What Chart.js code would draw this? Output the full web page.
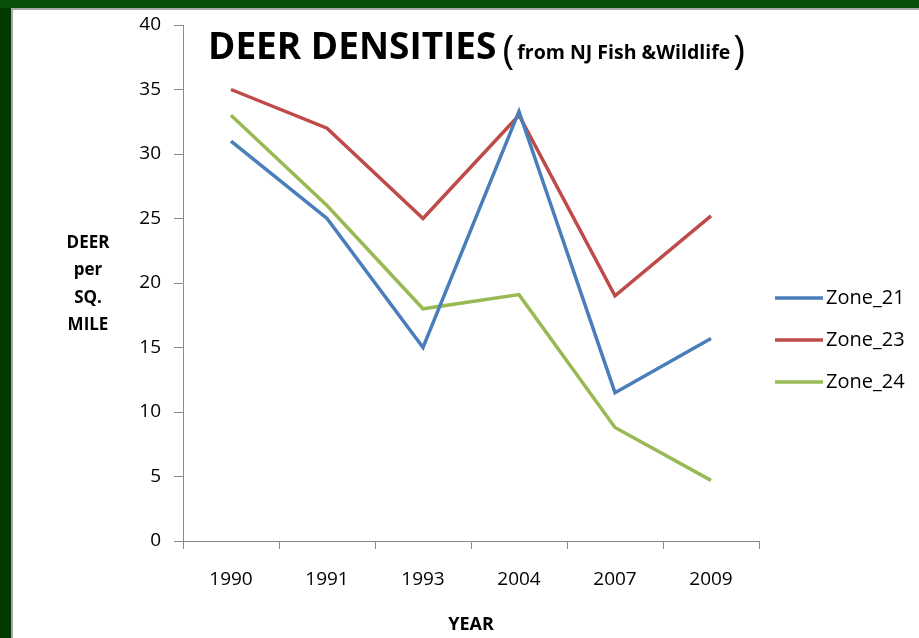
<!DOCTYPE html>
<html>
<head>
<meta charset="utf-8">
<style>
  html, body { margin: 0; padding: 0; }
  body { width: 919px; height: 638px; background: #0a500a; position: relative; overflow: hidden; }
  #sideband { position: absolute; left: 0; top: 8px; width: 11px; height: 630px; background: #023a02; }
  #frame { position: absolute; left: 11px; top: 8px; width: 908px; height: 630px; background: #fff;
           box-sizing: border-box; border-top: 2px solid #a8a8a8; border-left: 2px solid #a8a8a8; }
  #wrap { position: absolute; left: 0; top: 0; width: 906px; height: 628px; }
</style>
<script src="https://cdn.jsdelivr.net/npm/chart.js@4/dist/chart.umd.min.js"></script>
</head>
<body>
<div id="sideband"></div>
<div id="frame"><div id="wrap"><canvas id="c" width="906" height="628"></canvas></div></div>
<script>
// Deer per square mile by management zone
const years = ['1990', '1991', '1993', '2004', '2007', '2009'];
const zone21 = [31, 25, 15, 33.3, 11.5, 15.7];
const zone23 = [35, 32, 25, 33, 19, 25.2];
const zone24 = [33, 26, 18, 19.1, 8.8, 4.7];
const seriesNames = ['Zone_21', 'Zone_23', 'Zone_24'];
const seriesColors = ['#4a7ebb', '#be4b48', '#98b954'];
const yTitleLines = ['DEER', 'per', 'SQ.', 'MILE'];
const titleMain = 'DEER DENSITIES';
const titleSub = 'from NJ Fish &Wildlife';

const FONT = '"Open Sans", "DejaVu Sans", sans-serif';
Chart.defaults.font.family = FONT;
Chart.defaults.color = '#000';

const axisGrey = '#8a8a8a';

// Title, stacked y-axis caption and legend drawn on top of the chart
const overlay = {
  id: 'overlay',
  afterDraw(chart) {
    const ctx = chart.ctx;
    ctx.save();
    ctx.fillStyle = '#000';
    ctx.textBaseline = 'alphabetic';
    ctx.textAlign = 'left';

    // Title
    let x = 195;
    const base = 49;
    ctx.font = 'bold 37px ' + FONT;
    ctx.fillText(titleMain, x, base);
    x += ctx.measureText(titleMain).width + 6;
    ctx.font = '40px ' + FONT;
    ctx.fillText('(', x, base + 5);
    x += ctx.measureText('(').width + 3;
    ctx.font = 'bold 19.5px ' + FONT;
    ctx.fillText(titleSub, x, base);
    x += ctx.measureText(titleSub).width + 3;
    ctx.font = '40px ' + FONT;
    ctx.fillText(')', x, base + 5);

    // Y-axis caption, stacked lines
    ctx.font = 'bold 17px ' + FONT;
    ctx.textAlign = 'center';
    ctx.textBaseline = 'middle';
    const capY = [233, 260, 288, 315];
    yTitleLines.forEach((t, i) => ctx.fillText(t, 75, capY[i]));

    // Legend
    ctx.textAlign = 'left';
    ctx.font = '20px ' + FONT;
    chart.data.datasets.forEach((ds, i) => {
      const ly = 288 + i * 42;
      ctx.strokeStyle = ds.borderColor;
      ctx.lineWidth = 3.5;
      ctx.beginPath();
      ctx.moveTo(762, ly);
      ctx.lineTo(810, ly);
      ctx.stroke();
      ctx.fillStyle = '#000';
      ctx.fillText(ds.label, 813, ly);
    });
    ctx.restore();
  }
};

const seriesData = [zone21, zone23, zone24];

new Chart(document.getElementById('c'), {
  type: 'line',
  data: {
    labels: years,
    datasets: seriesData.map((d, i) => ({
      label: seriesNames[i],
      data: d,
      borderColor: seriesColors[i],
      backgroundColor: seriesColors[i],
      borderWidth: 3.5,
      tension: 0,
      pointRadius: 0,
      fill: false
    }))
  },
  options: {
    responsive: false,
    animation: false,
    devicePixelRatio: 1,
    layout: { padding: { top: 15, right: 160, bottom: 0, left: 0 } },
    plugins: {
      legend: { display: false },
      title: { display: false },
      tooltip: { enabled: false }
    },
    scales: {
      x: {
        type: 'category',
        offset: true,
        grid: { offset: true, drawOnChartArea: false, drawTicks: true, tickLength: 8, color: axisGrey },
        border: { display: true, color: axisGrey, width: 1 },
        ticks: { font: { size: 19 }, color: '#000', padding: 19, maxRotation: 0 },
        title: { display: true, text: 'YEAR', font: { size: 18, weight: 'bold' }, color: '#000', padding: { top: 0, bottom: 2 } },
        afterFit(scale) { scale.height = 97; scale.paddingLeft = 0; scale.paddingRight = 0; }
      },
      y: {
        min: 0,
        max: 40,
        ticks: { stepSize: 5, font: { size: 19 }, color: '#000', padding: 13 },
        grid: { drawOnChartArea: false, drawTicks: true, tickLength: 9, color: axisGrey },
        border: { display: true, color: axisGrey, width: 1 },
        afterFit(scale) { scale.width = 170; scale.paddingTop = 0; scale.paddingBottom = 0; }
      }
    }
  },
  plugins: [overlay]
});
</script>
</body>
</html>
